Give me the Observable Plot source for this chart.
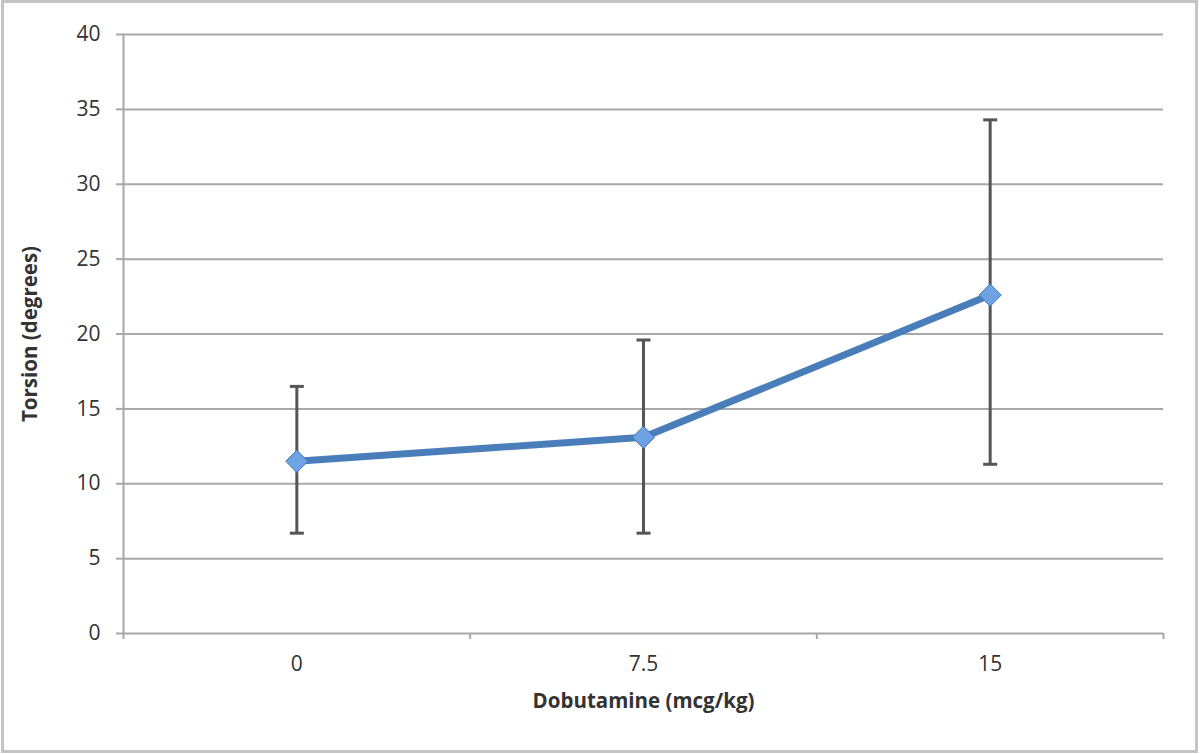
<!DOCTYPE html>
<html>
<head>
<meta charset="utf-8">
<script src="https://cdn.jsdelivr.net/npm/d3@7"></script>
<script src="https://cdn.jsdelivr.net/npm/@observablehq/plot@0.6"></script>
<style>
  html, body { margin: 0; padding: 0; background: #fff; }
  #wrap { position: relative; width: 1200px; height: 754px; overflow: hidden; }
  #border { position: absolute; left: 1px; top: 0; width: 1197px; height: 753px; box-sizing: border-box; border: 3px solid #c4c4c4; pointer-events: none; }
  #chart { position: absolute; left: 0; top: 0; }
</style>
</head>
<body>
<div id="wrap"><div id="chart"></div><div id="border"></div></div>
<script>
const categories = ["0", "7.5", "15"];
const means = [11.5, 13.1, 22.6];
const lows = [6.7, 6.7, 11.3];
const highs = [16.5, 19.6, 34.3];
const yTicks = [0, 5, 10, 15, 20, 25, 30, 35, 40];
const xTitle = "Dobutamine (mcg/kg)";
const yTitle = "Torsion (degrees)";

const data = categories.map((c, i) => ({ i, label: c, mean: means[i], lo: lows[i], hi: highs[i] }));
const centers = categories.map((c, i) => i);
const bounds = d3.range(-0.5, categories.length, 1);

const capSymbol = {
  draw(ctx, size) {
    const r = Math.sqrt(size / Math.PI);
    ctx.moveTo(-r, 0);
    ctx.lineTo(r, 0);
  }
};

const gray = "#a8a8a8";
const barColor = "#555555";

const chart = Plot.plot({
  width: 1200,
  height: 754,
  marginLeft: 123,
  marginRight: 37,
  marginTop: 34,
  marginBottom: 121,
  style: { fontFamily: "'Open Sans', sans-serif", fontSize: "19px", color: "#333", background: "transparent" },
  x: { type: "linear", domain: [-0.5, categories.length - 0.5] },
  y: { domain: [0, 40] },
  marks: [
    Plot.gridY(yTicks, { stroke: gray, strokeOpacity: 1, strokeWidth: 2 }),
    Plot.frame({ anchor: "left", stroke: gray, strokeWidth: 2 }),
    Plot.axisY(yTicks, { tickSize: 7, tickPadding: 16, stroke: gray, strokeWidth: 2, tickFormat: d => String(d),
      label: yTitle, labelAnchor: "center", labelArrow: "none", labelOffset: 101 }),
    Plot.axisX(bounds, { tickSize: 6, stroke: gray, strokeWidth: 2, tickFormat: () => "", label: null }),
    Plot.axisX(centers, { tickSize: 0, tickPadding: 23, tickFormat: i => categories[i],
      label: xTitle, labelAnchor: "center", labelArrow: "none", labelOffset: 74 }),
    Plot.ruleX(data, { x: "i", y1: "lo", y2: "hi", stroke: barColor, strokeWidth: 3 }),
    Plot.dot(data, { x: "i", y: "lo", symbol: capSymbol, r: 7, stroke: barColor, strokeWidth: 3, fill: "none" }),
    Plot.dot(data, { x: "i", y: "hi", symbol: capSymbol, r: 7, stroke: barColor, strokeWidth: 3, fill: "none" }),
    Plot.line(data, { x: "i", y: "mean", stroke: "#4a7ebb", strokeWidth: 7, strokeLinejoin: "round" }),
    Plot.dot(data, { x: "i", y: "mean", symbol: "diamond2", r: 10, fill: "#6ea2e3", stroke: "#3f74b8", strokeWidth: 1 })
  ]
});

chart.querySelectorAll("[aria-label='y-axis tick label'] text, [aria-label='x-axis tick label'] text").forEach(t => {
  t.setAttribute("font-size", "21px");
});
chart.querySelectorAll("[aria-label='y-axis tick label'], [aria-label='x-axis tick label']").forEach(g => {
  g.setAttribute("font-size", "21px");
});
chart.querySelectorAll("[aria-label='y-axis label'] text, [aria-label='x-axis label'] text").forEach(t => {
  t.setAttribute("font-weight", "bold");
  t.setAttribute("font-size", "20.5px");
});
document.getElementById("chart").appendChild(chart);
</script>
</body>
</html>
